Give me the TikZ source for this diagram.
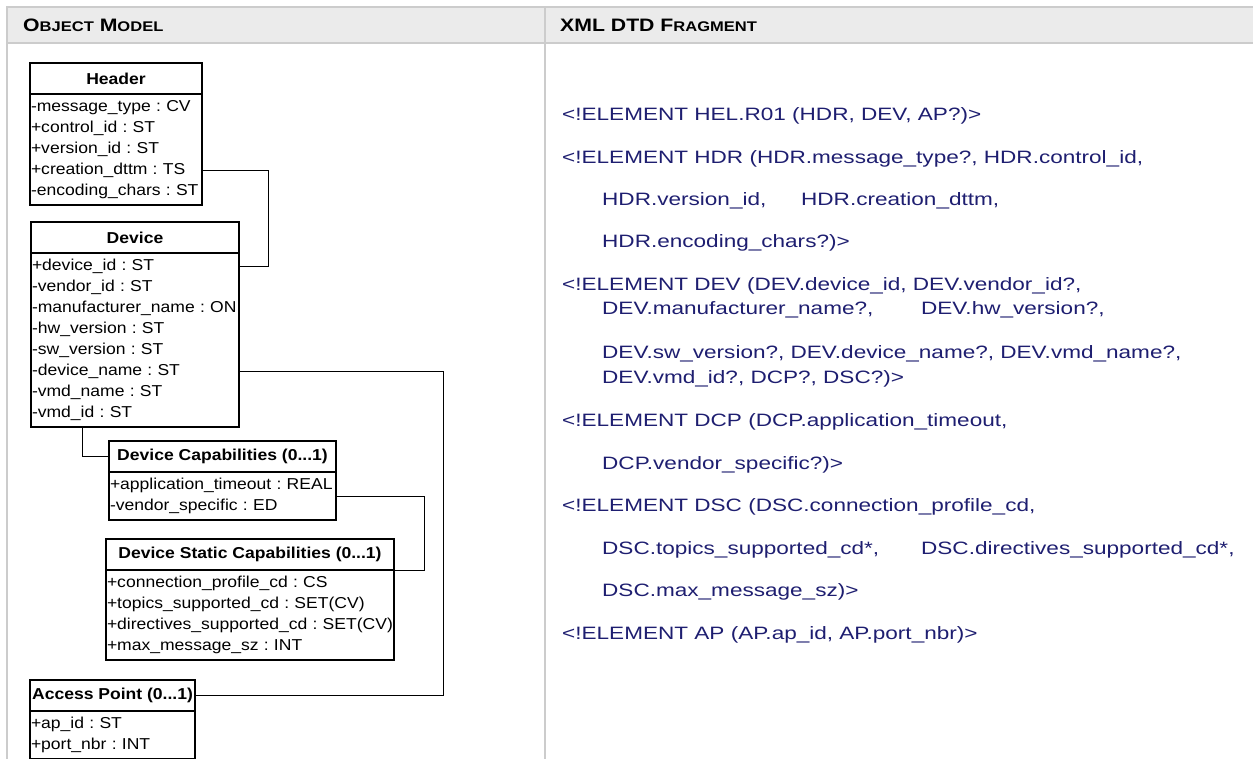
\documentclass[tikz,border=0pt]{standalone}
\usepackage{fontspec}
\setmainfont{Liberation Sans}
\newfontfamily\umlfont[FakeStretch=1.11]{Liberation Sans}
\newfontfamily\dtdfont[FakeStretch=1.26]{Liberation Sans}
\newfontfamily\headfont[FakeStretch=1.18]{Liberation Sans}
\usetikzlibrary{calc}
\frenchspacing
\definecolor{hdrgray}{HTML}{EBEBEB}
\definecolor{gridgray}{HTML}{CCCCCC}
\definecolor{dtdblue}{HTML}{1E1E70}
\newcommand{\fsc}[2]{#1{\fontsize{14}{16}\selectfont #2}}
\tikzset{
  classtitle/.style={draw, line width=1.2pt, outer sep=0pt, inner sep=0pt,
    minimum height=31pt, font=\umlfont\bfseries\fontsize{15.8}{19}\selectfont},
  classrow/.style={inner xsep=1pt, inner ysep=0pt, outer sep=0pt,
    minimum height=21pt, align=left, font=\umlfont\fontsize{15.8}{19}\selectfont},
  classline/.style={line width=1.2pt},
  link/.style={line width=1pt},
  gridline/.style={draw=gridgray, line width=2pt},
  colhead/.style={anchor=base west, inner sep=0pt, font=\headfont\bfseries\fontsize{18}{20}\selectfont},
  dtdline/.style={anchor=base west, inner sep=0pt, text=dtdblue, font=\dtdfont\fontsize{17.9}{21}\selectfont}
}
% class box: name, top left corner, width, title, rows
\newcommand{\umlclass}[5]{
  \node[classtitle, minimum width=#3pt, anchor=north west] (#1) at (#2) {#4};
  \foreach \row [count=\i] in {#5}
    {\node[classrow, text width=#3pt-2pt, anchor=north west]
       (#1-\i) at ($(#1.south west)+(0,{3+(\i-1)*21})$) {\mbox{\row}};
     \xdef\lastrow{\i}}
  \coordinate (#1-base) at ($(#1-\lastrow.south west)+(0,3)$);
  \draw[classline] (#1.south west) rectangle ($(#1-\lastrow.south east)+(0,3)$);
}

\begin{document}
\begin{tikzpicture}[x=1pt,y=-1pt]
\useasboundingbox (0,0) rectangle (1253,759);

% table
\fill[hdrgray] (7,7) rectangle (1253,43);
\draw[gridline] (7,759) -- (7,7) -- (1253,7);
\draw[gridline] (7,43) -- (1253,43);
\draw[gridline] (545,7) -- (545,759);
\node[colhead] (omhead) at (23,32) {\fsc{O}{BJECT} \fsc{M}{ODEL}};
\node[colhead] (dtdhead) at (560,32) {XML DTD \fsc{F}{RAGMENT}};

% object model
\umlclass{hdr}{30,63}{172}{Header}{-message\_type : CV, +control\_id : ST,
  +version\_id : ST, +creation\_dttm : TS, -encoding\_chars : ST}
\umlclass{dev}{31,222}{208}{Device}{+device\_id : ST, -vendor\_id : ST,
  -manufacturer\_name : ON, -hw\_version : ST, -sw\_version : ST,
  -device\_name : ST, -vmd\_name : ST, -vmd\_id : ST}
\umlclass{dcp}{109,441}{227}{Device Capabilities (0...1)}{+application\_timeout : REAL,
  -vendor\_specific : ED}
\umlclass{dsc}{106,539}{288}{Device Static Capabilities (0...1)}{+connection\_profile\_cd : CS,
  +topics\_supported\_cd : SET(CV), +directives\_supported\_cd : SET(CV),
  +max\_message\_sz : INT}
\umlclass{ap}{30,680}{165}{Access Point (0...1)}{+ap\_id : ST, +port\_nbr : INT}

\draw[link] (hdr-4.east) -- ++(66,0) |- (dev-1.east);
\draw[link] (dev-6.east) -- ++(204,0) |- (ap.east);
\draw[link] ([xshift=51pt]dev-base) |- (dcp.west);
\draw[link] (dcp-1.south east) -- ++(88,0) |- (dsc.south east);

% dtd fragment
\node[dtdline] (l1) at (562,120.3) {<!ELEMENT HEL.R01 (HDR, DEV, AP?)>};
\node[dtdline] (l2) at (562,163.3) {<!ELEMENT HDR (HDR.message\_type?, HDR.control\_id,};
\node[dtdline] (l3) at (602,205.3) {\makebox[199pt][l]{HDR.version\_id,}HDR.creation\_dttm,};
\node[dtdline] (l4) at (602,247.3) {HDR.encoding\_chars?)>};
\node[dtdline] (l5) at (562,290.3) {<!ELEMENT DEV (DEV.device\_id, DEV.vendor\_id?,};
\node[dtdline] (l6) at (602,314.3) {\makebox[319pt][l]{DEV.manufacturer\_name?,}DEV.hw\_version?,};
\node[dtdline] (l7) at (602,358.3) {DEV.sw\_version?, DEV.device\_name?, DEV.vmd\_name?,};
\node[dtdline] (l8) at (602,383.3) {DEV.vmd\_id?, DCP?, DSC?)>};
\node[dtdline] (l9) at (562,426.3) {<!ELEMENT DCP (DCP.application\_timeout,};
\node[dtdline] (l10) at (602,469.3) {DCP.vendor\_specific?)>};
\node[dtdline] (l11) at (562,511.3) {<!ELEMENT DSC (DSC.connection\_profile\_cd,};
\node[dtdline] (l12) at (602,554.3) {\makebox[319pt][l]{DSC.topics\_supported\_cd*,}DSC.directives\_supported\_cd*,};
\node[dtdline] (l13) at (602,596.3) {DSC.max\_message\_sz)>};
\node[dtdline] (l14) at (562,639.3) {<!ELEMENT AP (AP.ap\_id, AP.port\_nbr)>};
\end{tikzpicture}
\end{document}
